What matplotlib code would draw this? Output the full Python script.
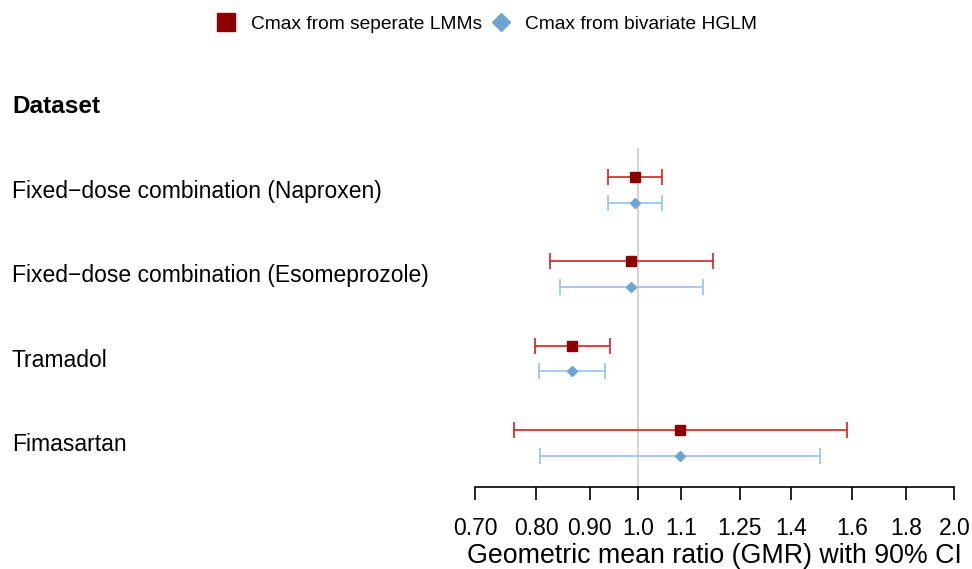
import numpy as np
import matplotlib
matplotlib.use("Agg")
import matplotlib.pyplot as plt
import matplotlib.transforms as mtransforms
from matplotlib.lines import Line2D

plt.rcParams["font.family"] = ["Liberation Sans", "DejaVu Sans"]

datasets = [
    "Fixed\u2212dose combination (Naproxen)",
    "Fixed\u2212dose combination (Esomeprozole)",
    "Tramadol",
    "Fimasartan",
]
lmm_gmr = [0.993, 0.985, 0.866, 1.097]
lmm_lo = [0.936, 0.825, 0.798, 0.762]
lmm_hi = [1.055, 1.178, 0.941, 1.580]
hglm_gmr = [0.993, 0.985, 0.866, 1.097]
hglm_lo = [0.936, 0.843, 0.806, 0.807]
hglm_hi = [1.055, 1.153, 0.931, 1.491]
tick_values = [0.70, 0.80, 0.90, 1.0, 1.1, 1.25, 1.4, 1.6, 1.8, 2.0]
tick_labels = ["0.70", "0.80", "0.90", "1.0", "1.1", "1.25", "1.4", "1.6", "1.8", "2.0"]

red_line = "#D42020"
red_mark = "#8B0000"
blue_line = "#90C4EE"
blue_mark = "#6CA4D2"

fig = plt.figure(figsize=(9.72, 5.69), dpi=100)
ax = fig.add_axes([475 / 972, 82 / 569, 479.3 / 972, 407 / 569])
ax.set_xscale("log")
ax.set_xlim(0.70, 2.0)
ax.set_ylim(3.52, -1.3)

pos = np.arange(len(datasets))
off = 0.152

ax.vlines(1.0, -0.5, 3.52, color="#CCCCCC", lw=1.2, zorder=1)

for gmr, lo, hi, y, lc, mc, mk, ms in [
    (lmm_gmr, lmm_lo, lmm_hi, pos - off, red_line, red_mark, "s", 7.3),
    (hglm_gmr, hglm_lo, hglm_hi, pos + off, blue_line, blue_mark, "D", 4.6),
]:
    gmr = np.array(gmr)
    err = [gmr - np.array(lo), np.array(hi) - gmr]
    ax.errorbar(gmr, y, xerr=err, fmt="none", ecolor=lc, elinewidth=1.2,
                capsize=6, capthick=1.2, zorder=2)
    ax.plot(gmr, y, linestyle="none", marker=mk, color=mc, markersize=ms, zorder=3)

for s in ["top", "right", "left"]:
    ax.spines[s].set_visible(False)
ax.spines["bottom"].set_linewidth(1.2)
ax.set_yticks([])
ax.set_xticks(tick_values)
ax.set_xticklabels(tick_labels)
ax.xaxis.set_minor_locator(matplotlib.ticker.NullLocator())
ax.tick_params(axis="x", length=9, width=1.2, pad=12.5, labelsize=16.5)
ax.set_xlabel("Geometric mean ratio (GMR) with 90% CI", fontsize=19.3, labelpad=2.5)

trans = mtransforms.blended_transform_factory(fig.transFigure, ax.transData)
ax.text(12 / 972, -0.99, "Dataset", transform=trans, fontsize=17.6, fontweight="bold",
        ha="left", va="center", clip_on=False)
for i, name in enumerate(datasets):
    ax.text(12 / 972, pos[i] + 0.02, name, transform=trans, fontsize=16.5,
            ha="left", va="center", clip_on=False)

handles = [
    Line2D([], [], linestyle="none", marker="s", color=red_mark, markersize=12.7),
    Line2D([], [], linestyle="none", marker="D", color=blue_mark, markersize=9),
]
fig.legend(handles, ["Cmax from seperate LMMs", "Cmax from bivariate HGLM"],
           loc="upper center", bbox_to_anchor=(0.501, 1.003), ncol=2, frameon=False,
           fontsize=13.8, handlelength=1.0, handletextpad=0.78, columnspacing=0.48)

fig.savefig("out.png", dpi=100)
